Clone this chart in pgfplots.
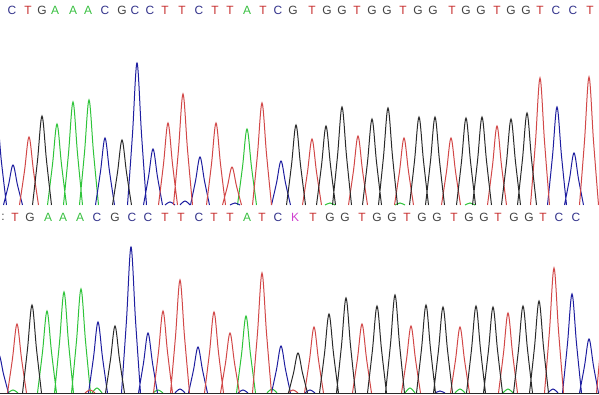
\documentclass[border=0pt]{standalone}
\usepackage{fontspec}
\setmainfont{Liberation Sans}
\usepackage{pgfplots}
\pgfplotsset{compat=1.18}
\definecolor{tA}{HTML}{2FC43A}
\definecolor{tC}{HTML}{1E1EA0}
\definecolor{tG}{HTML}{2A2A2A}
\definecolor{tT}{HTML}{D24848}
\definecolor{lA}{HTML}{38C040}
\definecolor{lC}{HTML}{34348C}
\definecolor{lG}{HTML}{444444}
\definecolor{lT}{HTML}{C83030}
\definecolor{lK}{HTML}{D040D0}
\newcommand\seqfont{\fontsize{12}{12}\selectfont}
\pgfplotsset{
  trace/.style={line width=1pt, smooth, tension=0.55, unbounded coords=jump, mark=none},
  letters/.style={draw=none, mark=none, nodes near coords, point meta=explicit symbolic,
    every node near coord/.append style={anchor=center, font=\seqfont, text=#1, inner sep=0pt}},
  panel/.style={scale only axis, hide axis, xmin=0, xmax=599, anchor=south west, clip=true}
}
\begin{document}
\begin{tikzpicture}
\path[use as bounding box, fill=white] (0,0) rectangle (599bp,395bp);
% ---------------- top panel ----------------
\begin{axis}[panel, at={(0,188bp)}, width=599bp, height=207bp, ymin=-2, ymax=205]
% A (green)
\addplot[trace, tA] coordinates {
(47.5,0)(52.5,40.5)(57,81)(61.5,40.5)(66.5,0)(0,nan)
(63.5,0)(68.5,51.5)(73,103)(77.5,51.5)(82.5,0)(0,nan)
(79.5,0)(84.5,52.5)(89,105)(93.5,52.5)(98.5,0)(0,nan)
(237.5,0)(242.5,38)(247,76)(251.5,38)(256.5,0)(0,nan)
(325,0)(330,2)(335,0)(0,nan)(395,0)(400,2)(405,0)(0,nan)(465,0)(470,2)(475,0)
};
% C (blue)
\addplot[trace, tC] coordinates {
(-12.5,0)(-7.5,42.5)(-3,85)(1.5,42.5)(6.5,0)(0,nan)
(3.5,0)(8.5,20)(13,40)(17.5,20)(22.5,0)(0,nan)
(95.5,0)(100.5,33.5)(105,67)(109.5,33.5)(114.5,0)(0,nan)
(127.5,0)(132.5,71)(137,142)(141.5,71)(146.5,0)(0,nan)
(143.5,0)(148.5,28)(153,56)(157.5,28)(162.5,0)(0,nan)
(190.5,0)(195.5,24)(200,48)(204.5,24)(209.5,0)(0,nan)
(271.5,0)(276.5,22)(281,44)(285.5,22)(290.5,0)(0,nan)
(547.5,0)(552.5,49)(557,98)(561.5,49)(566.5,0)(0,nan)
(564.5,0)(569.5,26)(574,52)(578.5,26)(583.5,0)(0,nan)
(165,0)(170,3)(175,0)(0,nan)(180,0)(185,4)(190,0)(0,nan)(230,0)(235,2)(240,0)
};
% T (red)
\addplot[trace, tT] coordinates {
(19.5,0)(24.5,34)(29,68)(33.5,34)(38.5,0)(0,nan)
(158.5,0)(163.5,41)(168,82)(172.5,41)(177.5,0)(0,nan)
(173.5,0)(178.5,55.5)(183,111)(187.5,55.5)(192.5,0)(0,nan)
(206.5,0)(211.5,41)(216,82)(220.5,41)(225.5,0)(0,nan)
(222.5,0)(227.5,19)(232,38)(236.5,19)(241.5,0)(0,nan)
(252.5,0)(257.5,51)(262,102)(266.5,51)(271.5,0)(0,nan)
(302.5,0)(307.5,33)(312,66)(316.5,33)(321.5,0)(0,nan)
(348.5,0)(353.5,34.5)(358,69)(362.5,34.5)(367.5,0)(0,nan)
(394.5,0)(399.5,33.5)(404,67)(408.5,33.5)(413.5,0)(0,nan)
(441.5,0)(446.5,33.5)(451,67)(455.5,33.5)(460.5,0)(0,nan)
(487.5,0)(492.5,39.5)(497,79)(501.5,39.5)(506.5,0)(0,nan)
(530.5,0)(535.5,63.5)(540,127)(544.5,63.5)(549.5,0)(0,nan)
(579.5,0)(584.5,64)(589,128)(593.5,64)(598.5,0)
};
% G (black)
\addplot[trace, tG] coordinates {
(32.5,0)(37.5,44.5)(42,89)(46.5,44.5)(51.5,0)(0,nan)
(112.5,0)(117.5,32.5)(122,65)(126.5,32.5)(131.5,0)(0,nan)
(286.5,0)(291.5,40)(296,80)(300.5,40)(305.5,0)(0,nan)
(316.5,0)(321.5,39.5)(326,79)(330.5,39.5)(335.5,0)(0,nan)
(332.5,0)(337.5,49)(342,98)(346.5,49)(351.5,0)(0,nan)
(362.5,0)(367.5,43)(372,86)(376.5,43)(381.5,0)(0,nan)
(378.5,0)(383.5,48.5)(388,97)(392.5,48.5)(397.5,0)(0,nan)
(409.5,0)(414.5,44)(419,88)(423.5,44)(428.5,0)(0,nan)
(425.5,0)(430.5,44)(435,88)(439.5,44)(444.5,0)(0,nan)
(456.5,0)(461.5,43.5)(466,87)(470.5,43.5)(475.5,0)(0,nan)
(472.5,0)(477.5,44)(482,88)(486.5,44)(491.5,0)(0,nan)
(501.5,0)(506.5,43)(511,86)(515.5,43)(520.5,0)(0,nan)
(517.5,0)(522.5,46)(527,92)(531.5,46)(536.5,0)
};
% base letters
\addplot[letters=lC] coordinates {(12,195)[C](105,195)[C](135,195)[C](150,195)[C](199,195)[C](278,195)[C](556,195)[C](573,195)[C]};
\addplot[letters=lT] coordinates {(28,195)[T](165,195)[T](182,195)[T](215,195)[T](230,195)[T](263,195)[T](312,195)[T](357,195)[T](403,195)[T](452,195)[T](497,195)[T](540,195)[T](590,195)[T]};
\addplot[letters=lG] coordinates {(42,195)[G](122,195)[G](293,195)[G](327,195)[G](342,195)[G](372,195)[G](387,195)[G](418,195)[G](433,195)[G](466,195)[G](481,195)[G](511,195)[G](526,195)[G]};
\addplot[letters=lA] coordinates {(55,195)[A](73,195)[A](88,195)[A](247,195)[A]};
\end{axis}
% ---------------- bottom panel ----------------
\begin{axis}[panel, at={(0,0)}, width=599bp, height=192bp, ymin=-2, ymax=190]
% A (green)
\addplot[trace, tA] coordinates {
(37.5,0)(42.5,41)(47,82)(51.5,41)(56.5,0)(0,nan)
(54.5,0)(59.5,50.5)(64,101)(68.5,50.5)(73.5,0)(0,nan)
(71.5,0)(76.5,52)(81,104)(85.5,52)(90.5,0)(0,nan)
(236.5,0)(241.5,38.5)(246,77)(250.5,38.5)(255.5,0)(0,nan)
(8,0)(13,3)(18,0)(0,nan)(92,0)(97,5)(102,0)(0,nan)(153,0)(158,3)(163,0)(0,nan)
(267,0)(272,4)(277,0)(0,nan)(405,0)(410,5)(415,0)(0,nan)(455,0)(460,4)(465,0)(0,nan)
(503,0)(508,4)(513,0)
};
% C (blue)
\addplot[trace, tC] coordinates {
(-10.5,0)(-5.5,19)(-1,38)(3.5,19)(8.5,0)(0,nan)
(88.5,0)(93.5,35.5)(98,71)(102.5,35.5)(107.5,0)(0,nan)
(121.5,0)(126.5,73)(131,146)(135.5,73)(140.5,0)(0,nan)
(138.5,0)(143.5,30)(148,60)(152.5,30)(157.5,0)(0,nan)
(188.5,0)(193.5,23)(198,46)(202.5,23)(207.5,0)(0,nan)
(271.5,0)(276.5,23.5)(281,47)(285.5,23.5)(290.5,0)(0,nan)
(562.5,0)(567.5,49.5)(572,99)(576.5,49.5)(581.5,0)(0,nan)
(579.5,0)(584.5,27)(589,54)(593.5,27)(598.5,0)(0,nan)
(175,0)(180,4)(185,0)(0,nan)(238,0)(243,3)(248,0)(0,nan)(305,0)(310,3)(315,0)(0,nan)
(548,0)(553,4)(558,0)(0,nan)(435,0)(440,2)(445,0)
};
% T (red)
\addplot[trace, tT] coordinates {
(7.5,0)(12.5,34.5)(17,69)(21.5,34.5)(26.5,0)(0,nan)
(153.5,0)(158.5,41)(163,82)(167.5,41)(172.5,0)(0,nan)
(170.5,0)(175.5,56.5)(180,113)(184.5,56.5)(189.5,0)(0,nan)
(204.5,0)(209.5,40.5)(214,81)(218.5,40.5)(223.5,0)(0,nan)
(220.5,0)(225.5,30)(230,60)(234.5,30)(239.5,0)(0,nan)
(252.5,0)(257.5,60)(262,120)(266.5,60)(271.5,0)(0,nan)
(304.5,0)(309.5,33)(314,66)(318.5,33)(323.5,0)(0,nan)
(352.5,0)(357.5,34.5)(362,69)(366.5,34.5)(371.5,0)(0,nan)
(401.5,0)(406.5,33.5)(411,67)(415.5,33.5)(420.5,0)(0,nan)
(450.5,0)(455.5,33)(460,66)(464.5,33)(469.5,0)(0,nan)
(498.5,0)(503.5,40)(508,80)(512.5,40)(517.5,0)(0,nan)
(544.5,0)(549.5,62.5)(554,125)(558.5,62.5)(563.5,0)(0,nan)
(596.5,0)(601.5,55)(606,110)(610.5,55)(615.5,0)(0,nan)
(85,0)(90,3)(95,0)(0,nan)(288,0)(293,3)(298,0)
};
% G (black)
\addplot[trace, tG] coordinates {
(22.5,0)(27.5,44)(32,88)(36.5,44)(41.5,0)(0,nan)
(105.5,0)(110.5,33.5)(115,67)(119.5,33.5)(124.5,0)(0,nan)
(288.5,0)(293.5,20)(298,40)(302.5,20)(307.5,0)(0,nan)
(319.5,0)(324.5,39.5)(329,79)(333.5,39.5)(338.5,0)(0,nan)
(336.5,0)(341.5,47.5)(346,95)(350.5,47.5)(355.5,0)(0,nan)
(367.5,0)(372.5,43.5)(377,87)(381.5,43.5)(386.5,0)(0,nan)
(385.5,0)(390.5,49)(395,98)(399.5,49)(404.5,0)(0,nan)
(416.5,0)(421.5,44)(426,88)(430.5,44)(435.5,0)(0,nan)
(433.5,0)(438.5,43)(443,86)(447.5,43)(452.5,0)(0,nan)
(466.5,0)(471.5,43.5)(476,87)(480.5,43.5)(485.5,0)(0,nan)
(483.5,0)(488.5,43)(493,86)(497.5,43)(502.5,0)(0,nan)
(513.5,0)(518.5,43.5)(523,87)(527.5,43.5)(532.5,0)(0,nan)
(529.5,0)(534.5,46)(539,92)(543.5,46)(548.5,0)
};
% baseline
\addplot[tG, line width=1pt, mark=none] coordinates {(0,0)(599,0)};
% base letters
\addplot[letters=lG] coordinates {(3,176)[:]};
\addplot[letters=lT] coordinates {(15,176)[T](165,176)[T](181,176)[T](214,176)[T](230,176)[T](262,176)[T](313,176)[T](362,176)[T](407,176)[T](454,176)[T](498,176)[T](543,176)[T]};
\addplot[letters=lG] coordinates {(30,176)[G](115,176)[G](330,176)[G](345,176)[G](377,176)[G](392,176)[G](422,176)[G](437,176)[G](469,176)[G](484,176)[G](514,176)[G](529,176)[G]};
\addplot[letters=lA] coordinates {(48,176)[A](63,176)[A](80,176)[A](247,176)[A]};
\addplot[letters=lC] coordinates {(97,176)[C](132,176)[C](148,176)[C](199,176)[C](278,176)[C](559,176)[C](576,176)[C]};
\addplot[letters=lK] coordinates {(295,176)[K]};
\end{axis}
\end{tikzpicture}
\end{document}
